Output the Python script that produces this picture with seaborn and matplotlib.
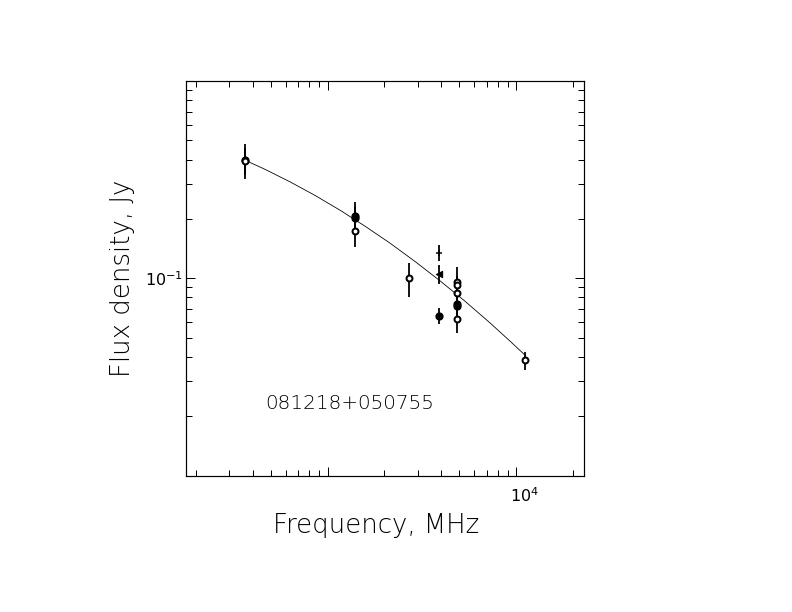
import matplotlib
matplotlib.use('Agg')
import matplotlib.pyplot as plt
import matplotlib.ticker as mticker
import matplotlib.transforms as mtransforms
import numpy as np
import pandas as pd
import seaborn as sns

# fitted spectrum
curve_freq = [364, 465, 631, 856, 1162, 1577, 2140, 2903, 3939, 5346, 7254, 9262, 11257]
curve_flux = [0.397, 0.3567, 0.3083, 0.2632, 0.2215, 0.1838, 0.1508, 0.1218,
              0.0972, 0.0766, 0.0595, 0.0481, 0.0404]

# measurements
freq = [365, 365, 1400, 1400, 1400, 2700, 3900, 3900, 3900,
        4850, 4850, 4850, 4850, 4850, 4850, 11200]
flux = [0.400, 0.395, 0.207, 0.201, 0.174, 0.100, 0.135, 0.105, 0.0644,
        0.0961, 0.0925, 0.0839, 0.0738, 0.0720, 0.0622, 0.0383]
err = [0.08, 0.06, 0.037, 0.03, 0.03, 0.02, 0.012, 0.012, 0.006,
       0.018, 0.01, 0.01, 0.008, 0.008, 0.0095, 0.004]
kind = ['filled', 'open', 'filled', 'filled', 'open', 'open', 'star', 'triangle', 'filled',
        'open', 'open', 'open', 'filled', 'filled', 'open', 'open']

source_name = '081218+050755'
x_label = 'Frequency, MHz'
y_label = 'Flux density, Jy'

df = pd.DataFrame({'freq': freq, 'flux': flux, 'err': err, 'kind': kind})
df_fit = pd.DataFrame({'freq': curve_freq, 'flux': curve_flux})

sns.set_style('ticks')
plt.rcParams['font.family'] = ['DejaVu Sans']
plt.rcParams['text.color'] = 'black'
plt.rcParams['axes.labelcolor'] = 'black'
plt.rcParams['xtick.color'] = 'black'
plt.rcParams['ytick.color'] = 'black'

fig = plt.figure(figsize=(11, 8.5), dpi=72)
ax = fig.add_axes([0.2348, 0.2230, 0.5025, 0.6446])

ax.set_xscale('log')
ax.set_yscale('log')

sns.lineplot(data=df_fit, x='freq', y='flux', ax=ax, color='black', lw=0.8, sort=False)

ax.errorbar(df['freq'], df['flux'], yerr=df['err'], fmt='none', ecolor='black', elinewidth=1.8, capsize=0)

styles = {
    'filled': dict(marker='o', s=45, color='black', edgecolor='black', linewidth=1.5),
    'open': dict(marker='o', s=35, color='white', edgecolor='black', linewidth=2.0),
    'star': dict(marker='+', s=45, color='black', linewidth=1.5),
    'triangle': dict(marker='<', s=40, color='black', edgecolor='black', linewidth=1.0),
}
for k, st in styles.items():
    sub = df[df['kind'] == k]
    sns.scatterplot(data=sub, x='freq', y='flux', ax=ax, zorder=3, legend=False, **st)

ax.set_xlim(177, 22900)
ax.set_ylim(0.01, 1.0)

ax.xaxis.set_major_locator(mticker.FixedLocator([1000, 10000]))
ax.xaxis.set_major_formatter(mticker.FixedFormatter(['', '$10^4$']))
ax.xaxis.set_minor_locator(mticker.LogLocator(base=10, subs=np.arange(2, 10)))
ax.xaxis.set_minor_formatter(mticker.NullFormatter())
ax.yaxis.set_major_locator(mticker.FixedLocator([0.01, 0.1, 1.0]))
ax.yaxis.set_major_formatter(mticker.FixedFormatter(['', '$10^{-1}$', '']))
ax.yaxis.set_minor_locator(mticker.LogLocator(base=10, subs=np.arange(2, 10)))
ax.yaxis.set_minor_formatter(mticker.NullFormatter())

ax.tick_params(which='both', direction='in', top=True, right=True, color='black', width=1.0)
ax.tick_params(which='major', length=9)
ax.tick_params(which='minor', length=6)
ax.tick_params(axis='x', which='major', pad=11, labelsize=16)
ax.tick_params(axis='y', which='major', pad=3, labelsize=16)

# nudge the 10^4 label a little to the right, as in the original
shift = mtransforms.ScaledTranslation(8 / 72, 0, fig.dpi_scale_trans)
for lab in ax.get_xticklabels():
    lab.set_transform(lab.get_transform() + shift)

for sp in ax.spines.values():
    sp.set_visible(True)
    sp.set_color('black')
    sp.set_linewidth(1.2)

ax.set_xlabel(x_label, fontsize=26, fontweight='light')
ax.xaxis.set_label_coords(0.4786, -0.095)
ax.set_ylabel(y_label, fontsize=26, labelpad=10, fontweight='light')

ax.text(465, 0.0231, source_name, fontsize=20, ha='left', va='center', fontweight='light')

fig.savefig('out.png', dpi=72, facecolor='white')
